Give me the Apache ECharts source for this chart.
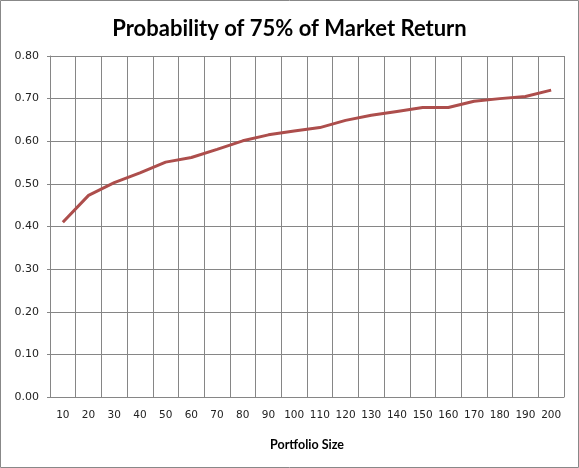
<!DOCTYPE html>
<html>
<head>
<meta charset="utf-8">
<script src="https://cdn.jsdelivr.net/npm/echarts@6/dist/echarts.min.js"></script>
<style>
html,body{margin:0;padding:0;background:#fff;}
#c{width:579px;height:468px;}
</style>
</head>
<body>
<div id="c"></div>
<script>
const categories = ['10','20','30','40','50','60','70','80','90','100','110','120','130','140','150','160','170','180','190','200'];
const probability = [0.41,0.473,0.503,0.526,0.551,0.562,0.581,0.601,0.615,0.624,0.632,0.649,0.661,0.670,0.679,0.679,0.694,0.700,0.705,0.720];
const titleText = 'Probability of 75% of Market Return';
const xAxisName = 'Portfolio Size';

const chart = echarts.init(document.getElementById('c'), null, {renderer:'canvas'});
chart.setOption({
  animation:false,
  backgroundColor:'#fff',
  title:{
    text:titleText,
    left:'center',
    top:13,
    textStyle:{fontFamily:'Lato',fontWeight:'bold',fontSize:22,color:'#000'}
  },
  graphic:[{
    type:'rect',
    shape:{x:0.5,y:0.5,width:578,height:467},
    style:{fill:'none',stroke:'#888',lineWidth:1},
    silent:true
  }],
  grid:{left:50,right:15,top:56,bottom:71,containLabel:false},
  xAxis:{
    type:'category',
    data:categories,
    boundaryGap:true,
    name:xAxisName,
    nameLocation:'middle',
    nameGap:41,
    nameTextStyle:{fontFamily:'Lato',fontWeight:'bold',fontSize:12.5,color:'#000'},
    axisLine:{show:true,lineStyle:{color:'#868686',width:1}},
    axisTick:{show:false},
    axisLabel:{interval:0,margin:13,fontFamily:'DejaVu Sans',fontSize:10.5,color:'#222'},
    splitLine:{show:true,interval:0,lineStyle:{color:'#868686',width:1}}
  },
  yAxis:{
    type:'value',
    min:0,max:0.8,interval:0.1,
    axisLine:{show:true,lineStyle:{color:'#868686',width:1}},
    axisTick:{show:true,length:3,lineStyle:{color:'#868686'}},
    axisLabel:{margin:11,fontFamily:'DejaVu Sans',fontSize:11,color:'#222',formatter:v=>v.toFixed(2)},
    splitLine:{show:true,lineStyle:{color:'#868686',width:1}}
  },
  series:[{
    type:'line',
    data:probability,
    symbol:'none',
    lineStyle:{color:'#AD4E4C',width:3},
    itemStyle:{color:'#AD4E4C'}
  }]
});
</script>
</body>
</html>
